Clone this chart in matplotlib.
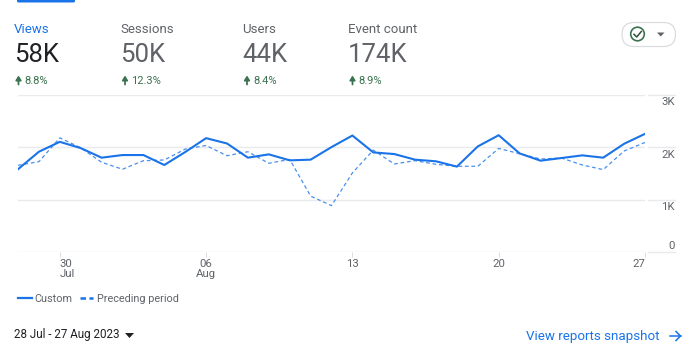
import matplotlib
matplotlib.use("Agg")
import matplotlib.pyplot as plt
from matplotlib.lines import Line2D
from matplotlib.patches import FancyBboxPatch, Circle, Polygon

plt.rcParams['font.family'] = ['Roboto', 'DejaVu Sans']

W, H = 698, 358
BLUE = '#1a73e8'
DASH_BLUE = '#4a90ec'
DARK = '#202124'
GREY = '#5f6368'
GREEN = '#3b7350'
GRID = '#e8eaed'

metric_names = ['Views', 'Sessions', 'Users', 'Event count']
metric_values = ['58K', '50K', '44K', '174K']
metric_changes = ['8.8%', '12.3%', '8.4%', '8.9%']

custom = [1579, 1912, 2100, 1981, 1799, 1849, 1849, 1660, 1906, 2170, 2069,
          1799, 1862, 1748, 1761, 2000, 2220, 1899, 1868, 1761, 1730, 1629,
          2013, 2226, 1880, 1742, 1792, 1843, 1799, 2063, 2252]
preceding = [1654, 1723, 2176, 1987, 1711, 1579, 1742, 1755, 1962, 2031, 1836,
             1912, 1692, 1767, 1069, 887, 1509, 1943, 1679, 1742, 1673, 1635,
             1635, 1975, 1874, 1774, 1792, 1660, 1572, 1925, 2088]
days = list(range(len(custom)))

x_tick_days = [2, 9, 16, 23, 30]
x_tick_labels = ['30\nJul', '06\nAug', '13', '20', '27']
y_ticks = [0, 1000, 2000, 3000]
y_tick_labels = ['0', '1K', '2K', '3K']

fig = plt.figure(figsize=(W / 100, H / 100), dpi=100, facecolor='white')

# Full-figure layer addressed in pixels for page furniture
ov = fig.add_axes([0, 0, 1, 1], zorder=0)
ov.set_xlim(0, W)
ov.set_ylim(H, 0)
ov.axis('off')

# Chart
L, R, T, B = 18, 645, 94.5, 252.3
ax = fig.add_axes([L / W, 1 - B / H, (R - L) / W, (B - T) / H], zorder=1)
ax.patch.set_alpha(0)
ax.set_xlim(0, 30)
ax.set_ylim(0, 3000)
for s in ax.spines.values():
    s.set_visible(False)
ax.set_yticks(y_ticks)
ax.set_yticklabels([])
ax.tick_params(axis='y', length=0)
ax.grid(axis='y', color=GRID, lw=1)
ax.set_axisbelow(True)
ax.set_xticks(x_tick_days)
ax.set_xticklabels(x_tick_labels, fontsize=8.2, color=GREY, linespacing=1.0)
ax.tick_params(axis='x', length=3.6, width=0.7, color='#dadce0', pad=1.5)
labels = ax.get_xticklabels()
labels[0].set_ha('left')
labels[0].set_multialignment('left')
labels[-1].set_ha('right')

ax.plot(days, preceding, color=DASH_BLUE, lw=0.9, dashes=(3, 2.2), zorder=3)
ax.plot(days, custom, color=BLUE, lw=1.5, zorder=4)

# Right-hand value scale: its own short rules, with labels hanging off them
trans = ax.get_yaxis_transform()
for v, lab in zip(y_ticks, y_tick_labels):
    ax.plot([1.005, 1.048], [v, v], transform=trans, color=GRID, lw=1, clip_on=False)
    dy = -6 if v == 0 else 7.5
    py = B - (B - T) * v / 3000 + dy
    ov.text(675, py, lab, ha='right', va='center', fontsize=8.2, color=GREY)

# Legend
handles = [Line2D([], [], color=BLUE, lw=1.6),
           Line2D([], [], color=BLUE, lw=1.8, dashes=(2.2, 1.4))]
leg = ax.legend(handles, ['Custom', 'Preceding period'], loc='upper left',
                frameon=False, ncol=2, fontsize=7.8, handlelength=1.25, handletextpad=0.3,
                columnspacing=0.65, borderpad=0, borderaxespad=0)
for t in leg.get_texts():
    t.set_color(GREY)
leg.set_bbox_to_anchor((18 / W, 1 - 293.5 / H), transform=fig.transFigure)

# Selected tab marker
ov.add_patch(FancyBboxPatch((17, -3), 58, 5.5, boxstyle='round,pad=0,rounding_size=1.5',
                            fc=BLUE, ec='none'))

# Metric cards
xs = [14, 120.5, 242.5, 348]
for i, (x, n, v, c) in enumerate(zip(xs, metric_names, metric_values, metric_changes)):
    ov.text(x, 29.5, n, fontsize=9.5, color=BLUE if i == 0 else GREY, va='center', ha='left')
    ov.text(x, 55.5, v, fontsize=18.5, color=DARK if i == 0 else GREY, va='center', ha='left')
    ov.annotate('', xy=(x + 4.5, 75.5), xytext=(x + 4.5, 84.5),
                arrowprops=dict(arrowstyle='-|>,head_width=0.16,head_length=0.25',
                                color=GREEN, lw=1.3, shrinkA=0, shrinkB=0))
    ov.text(x + 10.5, 80.5, c, fontsize=8.0, color=GREEN, va='center', ha='left')

# Compare pill
ov.add_patch(FancyBboxPatch((622, 22.5), 53.5, 24, boxstyle='round,pad=0,rounding_size=12',
                            fc='white', ec='#dadce0', lw=0.9))
ov.add_patch(Circle((637.5, 34), 6.8, fc='none', ec=GREEN, lw=1.2))
ov.plot([634, 636.7, 641.3], [34.3, 37, 31.5], color='#2f4f3c', lw=1.1)
ov.add_patch(Polygon([[657, 32.5], [664.5, 32.5], [660.75, 36.5]], fc=GREY, ec='none'))

# Footer
ov.text(14, 334.5, '28 Jul - 27 Aug 2023', fontsize=8.35, color=DARK, va='center', ha='left')
ov.add_patch(Polygon([[125, 333], [134, 333], [129.5, 338]], fc=DARK, ec='none'))
ov.text(526, 336.5, 'View reports snapshot', fontsize=9.6, color=BLUE, va='center', ha='left')
ov.plot([670, 680.5], [336, 336], color=BLUE, lw=1.1)
ov.plot([676, 680.5, 676], [331.5, 336, 340.5], color=BLUE, lw=1.1)

fig.savefig('out.png', dpi=100, facecolor='white')
